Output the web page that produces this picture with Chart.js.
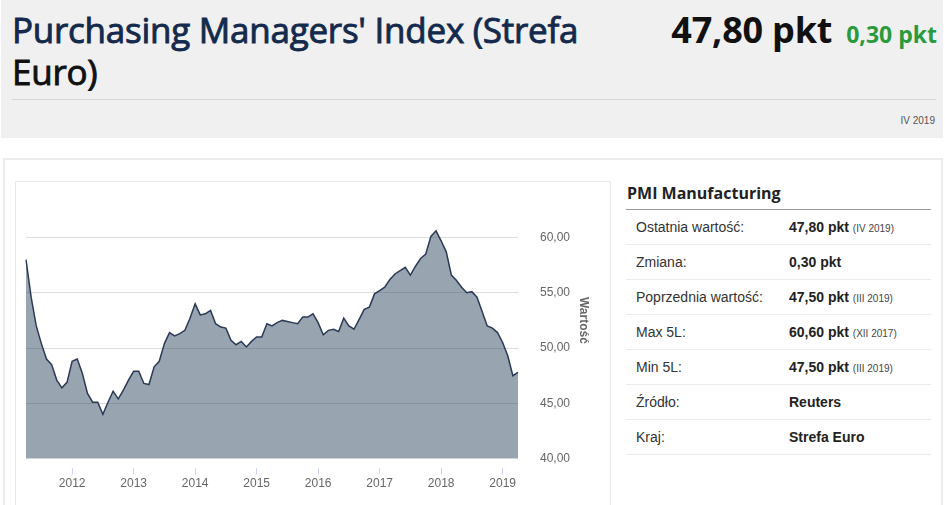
<!DOCTYPE html>
<html lang="pl">
<head>
<meta charset="utf-8">
<title>PMI Strefa Euro</title>
<script src="https://cdn.jsdelivr.net/npm/chart.js@4"></script>
<style>
  html, body { margin: 0; padding: 0; background: #fff; }
  body { width: 945px; height: 505px; position: relative; overflow: hidden; font-family: "Liberation Sans", Arial, sans-serif; }
  #top { position: absolute; left: 1px; top: 0; width: 942px; height: 138px; background: #f0f0f0; }
  #title { position: absolute; left: 11px; top: 9px; margin: 0; font: normal 35px/42px "Open Sans", sans-serif; color: #142a4d; letter-spacing: -0.25px; -webkit-text-stroke: 0.9px #142a4d; }
  #title span { color: #111; -webkit-text-stroke: 0.9px #111; }
  #quote { position: absolute; right: 6px; top: 5px; display: flex; align-items: baseline; gap: 14px; font-family: "Open Sans", sans-serif; font-weight: bold; }
  #quote .val { font-size: 36px; color: #111; letter-spacing: -0.2px; }
  #quote .chg { font-size: 23px; color: #2a9a3c; }
  #sep { position: absolute; left: 11px; top: 99px; width: 924px; height: 1px; background: #d6d6d6; }
  #date { position: absolute; right: 8px; top: 115px; font-size: 10px; color: #555; }
  #panel { position: absolute; left: 3px; top: 158px; width: 936px; height: 360px; border: 2px solid #ececec; }
  #chartBox { position: absolute; left: 15px; top: 181px; width: 594px; height: 340px; border: 1px solid #e8e8e8; }
  #chartBox canvas { position: absolute; left: 0; top: -29px; }
  #info { position: absolute; left: 626px; top: 180px; width: 305px; color: #333; }
  #info h2 { margin: 0; height: 29px; font: bold 16px/26px "Open Sans", sans-serif; color: #222; padding-left: 1px; border-bottom: 1px solid #9a9a9a; }
  #info .row { height: 34px; border-bottom: 1px solid #ececec; font-size: 14px; line-height: 34px; position: relative; }
  #info .row .k { position: absolute; left: 10px; }
  #info .row .v { position: absolute; left: 163px; font-weight: bold; color: #222; }
  #info .row .v small { font-weight: normal; font-size: 10px; color: #444; }
</style>
</head>
<body>
<div id="top">
  <h1 id="title">Purchasing Managers' Index (Strefa<br><span>Euro)</span></h1>
  <div id="quote"><span class="val">47,80 pkt</span><span class="chg">0,30 pkt</span></div>
  <div id="sep"></div>
  <div id="date">IV 2019</div>
</div>
<div id="panel"></div>
<div id="chartBox"><canvas id="pmiChart" width="594" height="356"></canvas></div>
<div id="info">
  <h2>PMI Manufacturing</h2>
  <div class="row"><span class="k">Ostatnia wartość:</span><span class="v">47,80 pkt <small>(IV 2019)</small></span></div>
  <div class="row"><span class="k">Zmiana:</span><span class="v">0,30 pkt</span></div>
  <div class="row"><span class="k">Poprzednia wartość:</span><span class="v">47,50 pkt <small>(III 2019)</small></span></div>
  <div class="row"><span class="k">Max 5L:</span><span class="v">60,60 pkt <small>(XII 2017)</small></span></div>
  <div class="row"><span class="k">Min 5L:</span><span class="v">47,50 pkt <small>(III 2019)</small></span></div>
  <div class="row"><span class="k">Źródło:</span><span class="v">Reuters</span></div>
  <div class="row"><span class="k">Kraj:</span><span class="v">Strefa Euro</span></div>
</div>

<script>
// miesiące od IV 2011 do IV 2019
const months = [
  "2011-04", "2011-05", "2011-06", "2011-07", "2011-08", "2011-09", "2011-10", "2011-11", "2011-12",
  "2012-01", "2012-02", "2012-03", "2012-04", "2012-05", "2012-06", "2012-07", "2012-08", "2012-09", "2012-10", "2012-11", "2012-12",
  "2013-01", "2013-02", "2013-03", "2013-04", "2013-05", "2013-06", "2013-07", "2013-08", "2013-09", "2013-10", "2013-11", "2013-12",
  "2014-01", "2014-02", "2014-03", "2014-04", "2014-05", "2014-06", "2014-07", "2014-08", "2014-09", "2014-10", "2014-11", "2014-12",
  "2015-01", "2015-02", "2015-03", "2015-04", "2015-05", "2015-06", "2015-07", "2015-08", "2015-09", "2015-10", "2015-11", "2015-12",
  "2016-01", "2016-02", "2016-03", "2016-04", "2016-05", "2016-06", "2016-07", "2016-08", "2016-09", "2016-10", "2016-11", "2016-12",
  "2017-01", "2017-02", "2017-03", "2017-04", "2017-05", "2017-06", "2017-07", "2017-08", "2017-09", "2017-10", "2017-11", "2017-12",
  "2018-01", "2018-02", "2018-03", "2018-04", "2018-05", "2018-06", "2018-07", "2018-08", "2018-09", "2018-10", "2018-11", "2018-12",
  "2019-01", "2019-02", "2019-03", "2019-04"
];

const pmiValues = [
  58.0, 54.6, 52.0, 50.4, 49.0, 48.5, 47.1, 46.4, 46.9,
  48.8, 49.0, 47.7, 45.9, 45.1, 45.1, 44.0, 45.1, 46.1, 45.4, 46.2, 47.1,
  47.9, 47.9, 46.8, 46.7, 48.3, 48.8, 50.4, 51.4, 51.1, 51.3, 51.6, 52.7,
  54.0, 53.0, 53.1, 53.4, 52.2, 51.9, 51.8, 50.7, 50.3, 50.6, 50.1, 50.6,
  51.0, 51.0, 52.2, 52.0, 52.3, 52.5, 52.4, 52.3, 52.2, 52.8, 52.8, 53.1,
  52.3, 51.2, 51.6, 51.7, 51.5, 52.7, 52.0, 51.7, 52.6, 53.5, 53.7, 54.9,
  55.2, 55.5, 56.2, 56.7, 57.0, 57.3, 56.6, 57.4, 58.1, 58.5, 60.1, 60.6,
  59.7, 58.7, 56.6, 56.1, 55.5, 55.0, 55.1, 54.6, 53.3, 52.0, 51.8, 51.4,
  50.5, 49.3, 47.5, 47.8
];

const yMin = 40;
const yMax = 65;
const yStep = 5;
const axisTitle = "Wartość";

const ctx = document.getElementById("pmiChart").getContext("2d");
new Chart(ctx, {
  type: "line",
  data: {
    labels: months,
    datasets: [{
      label: "PMI Manufacturing",
      data: pmiValues,
      borderColor: "#2b3a55",
      borderWidth: 1.5,
      backgroundColor: "rgba(52,73,100,0.5)",
      fill: "start",
      tension: 0,
      pointRadius: 0
    }]
  },
  options: {
    responsive: false,
    animation: false,
    layout: { padding: { left: 10, right: 0, top: 0, bottom: 16 } },
    plugins: { legend: { display: false }, tooltip: { enabled: false } },
    scales: {
      x: {
        offset: false,
        border: { display: false },
        grid: {
          drawOnChartArea: false,
          drawTicks: true,
          tickLength: 16,
          tickColor: "#ccd6eb",
          tickBorderDash: [0, 9, 7, 40]
        },
        ticks: {
          autoSkip: false,
          maxRotation: 0,
          padding: 2,
          color: "#666",
          font: { family: "Liberation Sans", size: 12 },
          callback: function (value) {
            const lab = this.getLabelForValue(value);
            return lab.endsWith("-01") ? lab.slice(0, 4) : null;
          }
        }
      },
      y: {
        position: "right",
        min: yMin,
        max: yMax,
        border: { display: false },
        grid: { color: "#dcdcdc", drawTicks: false },
        afterFit: scale => { scale.width = 92; },
        ticks: {
          stepSize: yStep,
          padding: 22,
          color: "#666",
          font: { family: "Liberation Sans", size: 12 },
          callback: v => v === yMax ? null : v.toFixed(2).replace(".", ",")
        },
        title: {
          display: true,
          text: axisTitle,
          color: "#666",
          font: { family: "Liberation Sans", size: 12, weight: "bold" },
          padding: { top: 19, bottom: 0 }
        }
      }
    }
  }
});
</script>
</body>
</html>
